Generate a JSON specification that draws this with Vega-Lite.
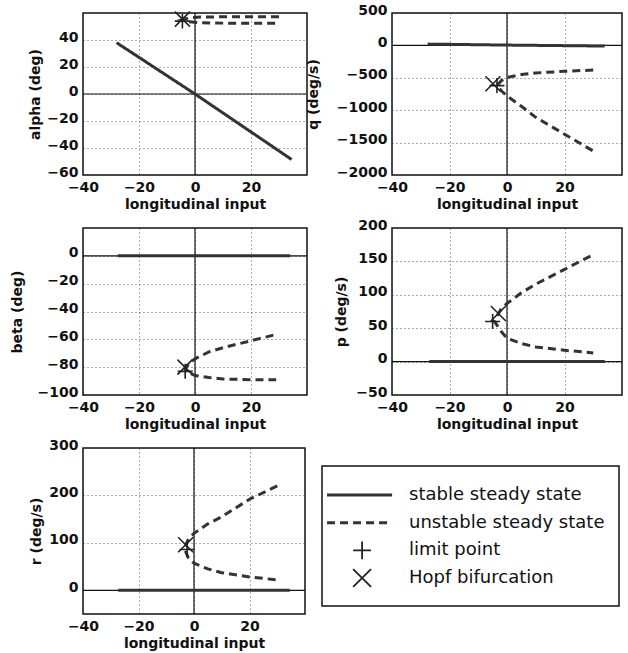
{
  "$schema": "https://vega.github.io/schema/vega-lite/v6.json",
  "padding": {"left": 9, "top": 2, "right": 2, "bottom": 2},
  "datasets": {
    "curves": [
      {"panel": "alpha", "branch": "s", "state": "stable steady state", "i": 1, "input": -28, "value": 38},
      {"panel": "alpha", "branch": "s", "state": "stable steady state", "i": 2, "input": 0, "value": 0},
      {"panel": "alpha", "branch": "s", "state": "stable steady state", "i": 3, "input": 34.5, "value": -48.5},
      {"panel": "alpha", "branch": "u", "state": "unstable steady state", "i": 1, "input": 30, "value": 57.3},
      {"panel": "alpha", "branch": "u", "state": "unstable steady state", "i": 2, "input": 20, "value": 57.3},
      {"panel": "alpha", "branch": "u", "state": "unstable steady state", "i": 3, "input": 10, "value": 57.2},
      {"panel": "alpha", "branch": "u", "state": "unstable steady state", "i": 4, "input": 2, "value": 57},
      {"panel": "alpha", "branch": "u", "state": "unstable steady state", "i": 5, "input": -2, "value": 56.5},
      {"panel": "alpha", "branch": "u", "state": "unstable steady state", "i": 6, "input": -4.5, "value": 55},
      {"panel": "alpha", "branch": "u", "state": "unstable steady state", "i": 7, "input": -2, "value": 53.5},
      {"panel": "alpha", "branch": "u", "state": "unstable steady state", "i": 8, "input": 2, "value": 52.8},
      {"panel": "alpha", "branch": "u", "state": "unstable steady state", "i": 9, "input": 10, "value": 52.5},
      {"panel": "alpha", "branch": "u", "state": "unstable steady state", "i": 10, "input": 20, "value": 52.4},
      {"panel": "alpha", "branch": "u", "state": "unstable steady state", "i": 11, "input": 30, "value": 52.4},

      {"panel": "q", "branch": "s", "state": "stable steady state", "i": 1, "input": -27.6, "value": 20},
      {"panel": "q", "branch": "s", "state": "stable steady state", "i": 2, "input": 0, "value": 5},
      {"panel": "q", "branch": "s", "state": "stable steady state", "i": 3, "input": 34, "value": -10},
      {"panel": "q", "branch": "u", "state": "unstable steady state", "i": 1, "input": 30, "value": -380},
      {"panel": "q", "branch": "u", "state": "unstable steady state", "i": 2, "input": 20, "value": -400},
      {"panel": "q", "branch": "u", "state": "unstable steady state", "i": 3, "input": 10, "value": -425},
      {"panel": "q", "branch": "u", "state": "unstable steady state", "i": 4, "input": 5, "value": -450},
      {"panel": "q", "branch": "u", "state": "unstable steady state", "i": 5, "input": 0, "value": -495},
      {"panel": "q", "branch": "u", "state": "unstable steady state", "i": 6, "input": -2, "value": -545},
      {"panel": "q", "branch": "u", "state": "unstable steady state", "i": 7, "input": -3.5, "value": -620},
      {"panel": "q", "branch": "u", "state": "unstable steady state", "i": 8, "input": -2, "value": -700},
      {"panel": "q", "branch": "u", "state": "unstable steady state", "i": 9, "input": 0, "value": -780},
      {"panel": "q", "branch": "u", "state": "unstable steady state", "i": 10, "input": 5, "value": -940},
      {"panel": "q", "branch": "u", "state": "unstable steady state", "i": 11, "input": 10, "value": -1110},
      {"panel": "q", "branch": "u", "state": "unstable steady state", "i": 12, "input": 20, "value": -1370},
      {"panel": "q", "branch": "u", "state": "unstable steady state", "i": 13, "input": 30, "value": -1630},

      {"panel": "beta", "branch": "s", "state": "stable steady state", "i": 1, "input": -27.6, "value": 0},
      {"panel": "beta", "branch": "s", "state": "stable steady state", "i": 2, "input": 34, "value": 0},
      {"panel": "beta", "branch": "u", "state": "unstable steady state", "i": 1, "input": 28, "value": -57},
      {"panel": "beta", "branch": "u", "state": "unstable steady state", "i": 2, "input": 20, "value": -61},
      {"panel": "beta", "branch": "u", "state": "unstable steady state", "i": 3, "input": 10, "value": -66},
      {"panel": "beta", "branch": "u", "state": "unstable steady state", "i": 4, "input": 5, "value": -69},
      {"panel": "beta", "branch": "u", "state": "unstable steady state", "i": 5, "input": 0, "value": -74},
      {"panel": "beta", "branch": "u", "state": "unstable steady state", "i": 6, "input": -2, "value": -77},
      {"panel": "beta", "branch": "u", "state": "unstable steady state", "i": 7, "input": -3.5, "value": -81},
      {"panel": "beta", "branch": "u", "state": "unstable steady state", "i": 8, "input": -2, "value": -84},
      {"panel": "beta", "branch": "u", "state": "unstable steady state", "i": 9, "input": 0, "value": -86},
      {"panel": "beta", "branch": "u", "state": "unstable steady state", "i": 10, "input": 5, "value": -87.5},
      {"panel": "beta", "branch": "u", "state": "unstable steady state", "i": 11, "input": 10, "value": -88.5},
      {"panel": "beta", "branch": "u", "state": "unstable steady state", "i": 12, "input": 20, "value": -89},
      {"panel": "beta", "branch": "u", "state": "unstable steady state", "i": 13, "input": 29, "value": -89},

      {"panel": "p", "branch": "s", "state": "stable steady state", "i": 1, "input": -27, "value": 0},
      {"panel": "p", "branch": "s", "state": "stable steady state", "i": 2, "input": 34, "value": 0},
      {"panel": "p", "branch": "u", "state": "unstable steady state", "i": 1, "input": 29, "value": 158},
      {"panel": "p", "branch": "u", "state": "unstable steady state", "i": 2, "input": 20, "value": 138},
      {"panel": "p", "branch": "u", "state": "unstable steady state", "i": 3, "input": 10, "value": 116},
      {"panel": "p", "branch": "u", "state": "unstable steady state", "i": 4, "input": 5, "value": 103},
      {"panel": "p", "branch": "u", "state": "unstable steady state", "i": 5, "input": 0, "value": 87},
      {"panel": "p", "branch": "u", "state": "unstable steady state", "i": 6, "input": -2, "value": 79},
      {"panel": "p", "branch": "u", "state": "unstable steady state", "i": 7, "input": -4.5, "value": 61},
      {"panel": "p", "branch": "u", "state": "unstable steady state", "i": 8, "input": -2, "value": 45},
      {"panel": "p", "branch": "u", "state": "unstable steady state", "i": 9, "input": 0, "value": 35},
      {"panel": "p", "branch": "u", "state": "unstable steady state", "i": 10, "input": 5, "value": 27},
      {"panel": "p", "branch": "u", "state": "unstable steady state", "i": 11, "input": 10, "value": 22},
      {"panel": "p", "branch": "u", "state": "unstable steady state", "i": 12, "input": 20, "value": 17},
      {"panel": "p", "branch": "u", "state": "unstable steady state", "i": 13, "input": 30, "value": 13},

      {"panel": "r", "branch": "s", "state": "stable steady state", "i": 1, "input": -27.3, "value": 0},
      {"panel": "r", "branch": "s", "state": "stable steady state", "i": 2, "input": 34.5, "value": 0},
      {"panel": "r", "branch": "u", "state": "unstable steady state", "i": 1, "input": 30, "value": 220},
      {"panel": "r", "branch": "u", "state": "unstable steady state", "i": 2, "input": 20, "value": 192},
      {"panel": "r", "branch": "u", "state": "unstable steady state", "i": 3, "input": 10, "value": 155},
      {"panel": "r", "branch": "u", "state": "unstable steady state", "i": 4, "input": 5, "value": 140},
      {"panel": "r", "branch": "u", "state": "unstable steady state", "i": 5, "input": 0, "value": 120},
      {"panel": "r", "branch": "u", "state": "unstable steady state", "i": 6, "input": -2, "value": 108},
      {"panel": "r", "branch": "u", "state": "unstable steady state", "i": 7, "input": -3.5, "value": 88},
      {"panel": "r", "branch": "u", "state": "unstable steady state", "i": 8, "input": -2, "value": 68},
      {"panel": "r", "branch": "u", "state": "unstable steady state", "i": 9, "input": 0, "value": 57},
      {"panel": "r", "branch": "u", "state": "unstable steady state", "i": 10, "input": 5, "value": 45},
      {"panel": "r", "branch": "u", "state": "unstable steady state", "i": 11, "input": 10, "value": 37},
      {"panel": "r", "branch": "u", "state": "unstable steady state", "i": 12, "input": 20, "value": 28},
      {"panel": "r", "branch": "u", "state": "unstable steady state", "i": 13, "input": 30, "value": 22}
    ],
    "points": [
      {"panel": "alpha", "type": "limit point", "input": -4.5, "value": 54},
      {"panel": "alpha", "type": "Hopf bifurcation", "input": -4.5, "value": 55.5},
      {"panel": "q", "type": "limit point", "input": -3.5, "value": -620},
      {"panel": "q", "type": "Hopf bifurcation", "input": -4.9, "value": -592},
      {"panel": "beta", "type": "limit point", "input": -3.5, "value": -83},
      {"panel": "beta", "type": "Hopf bifurcation", "input": -3.6, "value": -80},
      {"panel": "p", "type": "limit point", "input": -5, "value": 60},
      {"panel": "p", "type": "Hopf bifurcation", "input": -3, "value": 72},
      {"panel": "r", "type": "limit point", "input": -2.5, "value": 86},
      {"panel": "r", "type": "Hopf bifurcation", "input": -3, "value": 96}
    ],
    "legend": [
      {"label": "stable steady state", "kind": "line", "state": "stable steady state"},
      {"label": "unstable steady state", "kind": "line", "state": "unstable steady state"},
      {"label": "limit point", "kind": "point", "type": "limit point"},
      {"label": "Hopf bifurcation", "kind": "point", "type": "Hopf bifurcation"}
    ]
  },
  "spacing": 5,
  "vconcat": [
    {
      "spacing": 85,
      "bounds": "flush",
      "hconcat": [
        {
          "width": 224, "height": 162,
          "layer": [
            {"data": {"values": [{}]}, "mark": {"type": "rule", "color": "#111", "strokeWidth": 1.2}, "encoding": {"y": {"datum": 0, "type": "quantitative", "scale": {"domain": [-60, 60], "nice": false}, "axis": {"values": [-60, -40, -20, 0, 20, 40], "format": "d", "title": "alpha (deg)", "titlePadding": 4}}}},
            {"data": {"values": [{}]}, "mark": {"type": "rule", "color": "#111", "strokeWidth": 1.2}, "encoding": {"x": {"datum": 0, "type": "quantitative", "scale": {"domain": [-40, 40], "nice": false}, "axis": {"values": [-40, -20, 0, 20], "format": "d", "title": "longitudinal input"}}}},
            {"data": {"name": "curves"}, "transform": [{"filter": "datum.panel === 'alpha'"}],
             "mark": {"type": "line", "color": "#333", "strokeWidth": 3},
             "encoding": {
               "x": {"field": "input", "type": "quantitative", "scale": {"domain": [-40, 40], "nice": false}, "axis": {"values": [-40, -20, 0, 20], "format": "d", "title": "longitudinal input"}},
               "y": {"field": "value", "type": "quantitative", "scale": {"domain": [-60, 60], "nice": false}, "axis": {"values": [-60, -40, -20, 0, 20, 40], "format": "d", "title": "alpha (deg)", "titlePadding": 4}},
               "detail": {"field": "branch"},
               "order": {"field": "i"},
               "strokeDash": {"field": "state", "type": "nominal", "scale": {"domain": ["stable steady state", "unstable steady state"], "range": [[1, 0], [8, 5]]}, "legend": null}
             }},
            {"data": {"name": "points"}, "transform": [{"filter": "datum.panel === 'alpha'"}],
             "mark": {"type": "point", "filled": false, "stroke": "#222", "strokeWidth": 1.6, "size": 225, "opacity": 1},
             "encoding": {
               "x": {"field": "input", "type": "quantitative", "axis": {"values": [-40, -20, 0, 20], "format": "d", "title": "longitudinal input"}},
               "y": {"field": "value", "type": "quantitative", "axis": {"values": [-60, -40, -20, 0, 20, 40], "format": "d", "title": "alpha (deg)", "titlePadding": 4}},
               "shape": {"field": "type", "type": "nominal", "scale": {"domain": ["limit point", "Hopf bifurcation"], "range": ["M-1,0H1M0,-1V1", "M-1,-1L1,1M-1,1L1,-1"]}, "legend": null}
             }}
          ]
        },
        {
          "width": 230, "height": 162,
          "layer": [
            {"data": {"values": [{}]}, "mark": {"type": "rule", "color": "#111", "strokeWidth": 1.2}, "encoding": {"y": {"datum": 0, "type": "quantitative", "scale": {"domain": [-2000, 500], "nice": false}, "axis": {"values": [-2000, -1500, -1000, -500, 0, 500], "format": "d", "title": "q (deg/s)", "titlePadding": 15.5}}}},
            {"data": {"values": [{}]}, "mark": {"type": "rule", "color": "#111", "strokeWidth": 1.2}, "encoding": {"x": {"datum": 0, "type": "quantitative", "scale": {"domain": [-40, 40], "nice": false}, "axis": {"values": [-40, -20, 0, 20], "format": "d", "title": "longitudinal input"}}}},
            {"data": {"name": "curves"}, "transform": [{"filter": "datum.panel === 'q'"}],
             "mark": {"type": "line", "color": "#333", "strokeWidth": 3},
             "encoding": {
               "x": {"field": "input", "type": "quantitative", "scale": {"domain": [-40, 40], "nice": false}, "axis": {"values": [-40, -20, 0, 20], "format": "d", "title": "longitudinal input"}},
               "y": {"field": "value", "type": "quantitative", "scale": {"domain": [-2000, 500], "nice": false}, "axis": {"values": [-2000, -1500, -1000, -500, 0, 500], "format": "d", "title": "q (deg/s)", "titlePadding": 15.5}},
               "detail": {"field": "branch"},
               "order": {"field": "i"},
               "strokeDash": {"field": "state", "type": "nominal", "scale": {"domain": ["stable steady state", "unstable steady state"], "range": [[1, 0], [8, 5]]}, "legend": null}
             }},
            {"data": {"name": "points"}, "transform": [{"filter": "datum.panel === 'q'"}],
             "mark": {"type": "point", "filled": false, "stroke": "#222", "strokeWidth": 1.6, "size": 225, "opacity": 1},
             "encoding": {
               "x": {"field": "input", "type": "quantitative", "axis": {"values": [-40, -20, 0, 20], "format": "d", "title": "longitudinal input"}},
               "y": {"field": "value", "type": "quantitative", "axis": {"values": [-2000, -1500, -1000, -500, 0, 500], "format": "d", "title": "q (deg/s)", "titlePadding": 15.5}},
               "shape": {"field": "type", "type": "nominal", "scale": {"domain": ["limit point", "Hopf bifurcation"], "range": ["M-1,0H1M0,-1V1", "M-1,-1L1,1M-1,1L1,-1"]}, "legend": null}
             }}
          ]
        }
      ]
    },
    {
      "spacing": 85,
      "bounds": "flush",
      "hconcat": [
        {
          "width": 224, "height": 167,
          "layer": [
            {"data": {"values": [{}]}, "mark": {"type": "rule", "color": "#111", "strokeWidth": 1.2}, "encoding": {"y": {"datum": 0, "type": "quantitative", "scale": {"domain": [-100, 20], "nice": false}, "axis": {"values": [-100, -80, -60, -40, -20, 0], "format": "d", "title": "beta (deg)", "titlePadding": 13}}}},
            {"data": {"values": [{}]}, "mark": {"type": "rule", "color": "#111", "strokeWidth": 1.2}, "encoding": {"x": {"datum": 0, "type": "quantitative", "scale": {"domain": [-40, 40], "nice": false}, "axis": {"values": [-40, -20, 0, 20], "format": "d", "title": "longitudinal input"}}}},
            {"data": {"name": "curves"}, "transform": [{"filter": "datum.panel === 'beta'"}],
             "mark": {"type": "line", "color": "#333", "strokeWidth": 3},
             "encoding": {
               "x": {"field": "input", "type": "quantitative", "scale": {"domain": [-40, 40], "nice": false}, "axis": {"values": [-40, -20, 0, 20], "format": "d", "title": "longitudinal input"}},
               "y": {"field": "value", "type": "quantitative", "scale": {"domain": [-100, 20], "nice": false}, "axis": {"values": [-100, -80, -60, -40, -20, 0], "format": "d", "title": "beta (deg)", "titlePadding": 13}},
               "detail": {"field": "branch"},
               "order": {"field": "i"},
               "strokeDash": {"field": "state", "type": "nominal", "scale": {"domain": ["stable steady state", "unstable steady state"], "range": [[1, 0], [8, 5]]}, "legend": null}
             }},
            {"data": {"name": "points"}, "transform": [{"filter": "datum.panel === 'beta'"}],
             "mark": {"type": "point", "filled": false, "stroke": "#222", "strokeWidth": 1.6, "size": 225, "opacity": 1},
             "encoding": {
               "x": {"field": "input", "type": "quantitative", "axis": {"values": [-40, -20, 0, 20], "format": "d", "title": "longitudinal input"}},
               "y": {"field": "value", "type": "quantitative", "axis": {"values": [-100, -80, -60, -40, -20, 0], "format": "d", "title": "beta (deg)", "titlePadding": 13}},
               "shape": {"field": "type", "type": "nominal", "scale": {"domain": ["limit point", "Hopf bifurcation"], "range": ["M-1,0H1M0,-1V1", "M-1,-1L1,1M-1,1L1,-1"]}, "legend": null}
             }}
          ]
        },
        {
          "width": 230, "height": 167,
          "layer": [
            {"data": {"values": [{}]}, "mark": {"type": "rule", "color": "#111", "strokeWidth": 1.2}, "encoding": {"y": {"datum": 0, "type": "quantitative", "scale": {"domain": [-50, 200], "nice": false}, "axis": {"values": [-50, 0, 50, 100, 150, 200], "format": "d", "title": "p (deg/s)", "titlePadding": 7}}}},
            {"data": {"values": [{}]}, "mark": {"type": "rule", "color": "#111", "strokeWidth": 1.2}, "encoding": {"x": {"datum": 0, "type": "quantitative", "scale": {"domain": [-40, 40], "nice": false}, "axis": {"values": [-40, -20, 0, 20], "format": "d", "title": "longitudinal input"}}}},
            {"data": {"name": "curves"}, "transform": [{"filter": "datum.panel === 'p'"}],
             "mark": {"type": "line", "color": "#333", "strokeWidth": 3},
             "encoding": {
               "x": {"field": "input", "type": "quantitative", "scale": {"domain": [-40, 40], "nice": false}, "axis": {"values": [-40, -20, 0, 20], "format": "d", "title": "longitudinal input"}},
               "y": {"field": "value", "type": "quantitative", "scale": {"domain": [-50, 200], "nice": false}, "axis": {"values": [-50, 0, 50, 100, 150, 200], "format": "d", "title": "p (deg/s)", "titlePadding": 7}},
               "detail": {"field": "branch"},
               "order": {"field": "i"},
               "strokeDash": {"field": "state", "type": "nominal", "scale": {"domain": ["stable steady state", "unstable steady state"], "range": [[1, 0], [8, 5]]}, "legend": null}
             }},
            {"data": {"name": "points"}, "transform": [{"filter": "datum.panel === 'p'"}],
             "mark": {"type": "point", "filled": false, "stroke": "#222", "strokeWidth": 1.6, "size": 225, "opacity": 1},
             "encoding": {
               "x": {"field": "input", "type": "quantitative", "axis": {"values": [-40, -20, 0, 20], "format": "d", "title": "longitudinal input"}},
               "y": {"field": "value", "type": "quantitative", "axis": {"values": [-50, 0, 50, 100, 150, 200], "format": "d", "title": "p (deg/s)", "titlePadding": 7}},
               "shape": {"field": "type", "type": "nominal", "scale": {"domain": ["limit point", "Hopf bifurcation"], "range": ["M-1,0H1M0,-1V1", "M-1,-1L1,1M-1,1L1,-1"]}, "legend": null}
             }}
          ]
        }
      ]
    },
    {
      "spacing": 17,
      "bounds": "flush",
      "hconcat": [
        {
          "width": 222, "height": 166,
          "layer": [
            {"data": {"values": [{}]}, "mark": {"type": "rule", "color": "#111", "strokeWidth": 1.2}, "encoding": {"y": {"datum": 0, "type": "quantitative", "scale": {"domain": [-50, 300], "nice": false}, "axis": {"values": [0, 100, 200, 300], "format": "d", "title": "r (deg/s)", "titlePadding": 5}}}},
            {"data": {"values": [{}]}, "mark": {"type": "rule", "color": "#111", "strokeWidth": 1.2}, "encoding": {"x": {"datum": 0, "type": "quantitative", "scale": {"domain": [-40, 40], "nice": false}, "axis": {"values": [-40, -20, 0, 20], "format": "d", "title": "longitudinal input"}}}},
            {"data": {"name": "curves"}, "transform": [{"filter": "datum.panel === 'r'"}],
             "mark": {"type": "line", "color": "#333", "strokeWidth": 3},
             "encoding": {
               "x": {"field": "input", "type": "quantitative", "scale": {"domain": [-40, 40], "nice": false}, "axis": {"values": [-40, -20, 0, 20], "format": "d", "title": "longitudinal input"}},
               "y": {"field": "value", "type": "quantitative", "scale": {"domain": [-50, 300], "nice": false}, "axis": {"values": [0, 100, 200, 300], "format": "d", "title": "r (deg/s)", "titlePadding": 5}},
               "detail": {"field": "branch"},
               "order": {"field": "i"},
               "strokeDash": {"field": "state", "type": "nominal", "scale": {"domain": ["stable steady state", "unstable steady state"], "range": [[1, 0], [8, 5]]}, "legend": null}
             }},
            {"data": {"name": "points"}, "transform": [{"filter": "datum.panel === 'r'"}],
             "mark": {"type": "point", "filled": false, "stroke": "#222", "strokeWidth": 1.6, "size": 225, "opacity": 1},
             "encoding": {
               "x": {"field": "input", "type": "quantitative", "axis": {"values": [-40, -20, 0, 20], "format": "d", "title": "longitudinal input"}},
               "y": {"field": "value", "type": "quantitative", "axis": {"values": [0, 100, 200, 300], "format": "d", "title": "r (deg/s)", "titlePadding": 5}},
               "shape": {"field": "type", "type": "nominal", "scale": {"domain": ["limit point", "Hopf bifurcation"], "range": ["M-1,0H1M0,-1V1", "M-1,-1L1,1M-1,1L1,-1"]}, "legend": null}
             }}
          ]
        },
        {
          "width": 297, "height": 166,
          "view": {"stroke": null},
          "resolve": {"scale": {"y": "independent"}},
          "layer": [
            {"data": {"values": [{}]},
             "mark": {"type": "rect", "fill": null, "stroke": "#111", "strokeWidth": 1.5},
             "encoding": {
               "x": {"datum": 0, "type": "quantitative", "scale": {"domain": [0, 1], "nice": false, "zero": false}, "axis": null},
               "x2": {"datum": 1},
               "y": {"datum": 0.048, "type": "quantitative", "scale": {"domain": [0, 1], "nice": false}, "axis": null},
               "y2": {"datum": 0.892}
             }},
            {"data": {"name": "legend"},
             "layer": [
               {"transform": [{"filter": "datum.kind === 'line'"}],
                "mark": {"type": "rule", "color": "#333", "strokeWidth": 3},
                "encoding": {
                  "y": {"field": "label", "type": "nominal", "scale": {"type": "band", "domain": ["stable steady state", "unstable steady state", "limit point", "Hopf bifurcation"], "paddingInner": 0, "paddingOuter": 1, "align": 0.6}, "axis": null},
                  "x": {"datum": 0.017, "type": "quantitative", "axis": null},
                  "x2": {"datum": 0.236},
                  "strokeDash": {"field": "state", "type": "nominal", "scale": {"domain": ["stable steady state", "unstable steady state"], "range": [[1, 0], [8, 5]]}, "legend": null}
                }},
               {"transform": [{"filter": "datum.kind === 'point'"}],
                "mark": {"type": "point", "filled": false, "stroke": "#222", "strokeWidth": 1.8, "size": 320, "opacity": 1},
                "encoding": {
                  "y": {"field": "label", "type": "nominal", "scale": {"type": "band", "domain": ["stable steady state", "unstable steady state", "limit point", "Hopf bifurcation"], "paddingInner": 0, "paddingOuter": 1, "align": 0.6}, "axis": null},
                  "x": {"datum": 0.135, "type": "quantitative", "axis": null},
                  "shape": {"field": "type", "type": "nominal", "scale": {"domain": ["limit point", "Hopf bifurcation"], "range": ["M-1,0H1M0,-1V1", "M-1,-1L1,1M-1,1L1,-1"]}, "legend": null}
                }},
               {"mark": {"type": "text", "align": "left", "baseline": "middle", "fontSize": 18, "font": "DejaVu Sans", "color": "#111"},
                "encoding": {
                  "y": {"field": "label", "type": "nominal", "scale": {"type": "band", "domain": ["stable steady state", "unstable steady state", "limit point", "Hopf bifurcation"], "paddingInner": 0, "paddingOuter": 1, "align": 0.6}, "axis": null},
                  "x": {"datum": 0.293, "type": "quantitative", "axis": null},
                  "text": {"field": "label", "type": "nominal"}
                }}
             ]}
          ]
        }
      ]
    }
  ],
  "config": {
    "font": "DejaVu Sans",
    "view": {"stroke": "#111", "strokeWidth": 1.5},
    "axis": {
      "labelFont": "DejaVu Sans", "labelFontSize": 14, "labelFontWeight": "bold", "labelColor": "#111",
      "titleFont": "DejaVu Sans", "titleFontSize": 14, "titleFontWeight": "bold", "titleColor": "#111",
      "ticks": false, "tickSize": 0, "domain": false,
      "grid": true, "gridColor": "#333", "gridDash": [1, 3], "gridWidth": 1, "gridOpacity": 0.8,
      "labelPadding": 5, "labelOverlap": false, "labelFlush": false, "labelBound": false
    },
    "axisY": {"labelOffset": -3},
    "axisX": {"titlePadding": 3, "labelPadding": 5}
  }
}
